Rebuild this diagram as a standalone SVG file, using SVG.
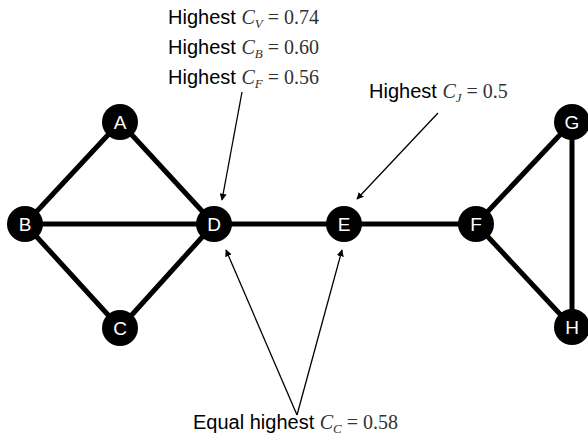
<svg xmlns="http://www.w3.org/2000/svg" width="588" height="445" viewBox="0 0 588 445">
<style>
.edge{stroke:#000;stroke-width:5;fill:none}
.arr{stroke:#000;stroke-width:1.3;fill:none;marker-end:url(#ah)}
.node circle{fill:#000}
.node text{fill:#fff;font-family:"Liberation Sans",Arial,sans-serif;font-size:19px;text-anchor:middle}
.lbl{font-family:"Liberation Sans",Arial,sans-serif;font-size:20px;fill:#000}
.m{font-family:"Liberation Serif","Times New Roman",serif;font-size:20px;fill:#333;font-style:normal}
.mi{font-family:"Liberation Serif","Times New Roman",serif;font-style:italic;font-size:20px;fill:#333}
.sub{font-family:"Liberation Serif","Times New Roman",serif;font-style:italic;font-size:13px;fill:#333}
</style>
<defs>
<marker id="ah" viewBox="0 0 10 10" refX="9" refY="5" markerWidth="7" markerHeight="7" markerUnits="userSpaceOnUse" orient="auto">
<path d="M0,0 L10,5 L0,10 z" fill="#000"/>
</marker>
</defs>
<rect width="588" height="445" fill="#fff"/>
<g id="connectors">
<line class="edge" x1="120" y1="122" x2="25" y2="224"/>
<line class="edge" x1="120" y1="122" x2="214" y2="224"/>
<line class="edge" x1="25" y1="224" x2="214" y2="224"/>
<line class="edge" x1="25" y1="224" x2="120" y2="328"/>
<line class="edge" x1="120" y1="328" x2="214" y2="224"/>
<line class="edge" x1="214" y1="224" x2="344" y2="224"/>
<line class="edge" x1="344" y1="224" x2="476" y2="224"/>
<line class="edge" x1="476" y1="224" x2="572" y2="122"/>
<line class="edge" x1="476" y1="224" x2="572" y2="327"/>
<line class="edge" x1="572" y1="122" x2="572" y2="327"/>
<line class="arr" x1="242" y1="92" x2="222" y2="200"/>
<line class="arr" x1="438" y1="113" x2="357" y2="199"/>
<line class="arr" x1="297" y1="415" x2="226" y2="250"/>
<line class="arr" x1="297" y1="415" x2="342" y2="250"/>
</g>
<g id="A" class="node"><circle cx="120" cy="122" r="18"/><text x="120" y="129">A</text></g>
<g id="B" class="node"><circle cx="25" cy="224" r="18"/><text x="25" y="231">B</text></g>
<g id="C" class="node"><circle cx="120" cy="328" r="18"/><text x="120" y="335">C</text></g>
<g id="D" class="node"><circle cx="214" cy="224" r="18"/><text x="214" y="231">D</text></g>
<g id="E" class="node"><circle cx="344" cy="224" r="18"/><text x="344" y="231">E</text></g>
<g id="F" class="node"><circle cx="476" cy="224" r="18"/><text x="476" y="231">F</text></g>
<g id="G" class="node"><circle cx="572" cy="122" r="18"/><text x="572" y="129">G</text></g>
<g id="H" class="node"><circle cx="572" cy="327" r="18"/><text x="572" y="334">H</text></g>
<g id="labels">
<text x="168" y="24"><tspan class="lbl">Highest </tspan><tspan class="mi">C</tspan><tspan class="sub" dy="4">V</tspan><tspan class="m" dy="-4" font-family="Liberation Serif, serif"> = 0.74</tspan></text>
<text x="168" y="54"><tspan class="lbl">Highest </tspan><tspan class="mi">C</tspan><tspan class="sub" dy="4">B</tspan><tspan class="m" dy="-4" font-family="Liberation Serif, serif"> = 0.60</tspan></text>
<text x="168" y="84"><tspan class="lbl">Highest </tspan><tspan class="mi">C</tspan><tspan class="sub" dy="4">F</tspan><tspan class="m" dy="-4" font-family="Liberation Serif, serif"> = 0.56</tspan></text>
<text x="369" y="98"><tspan class="lbl">Highest </tspan><tspan class="mi">C</tspan><tspan class="sub" dy="4">J</tspan><tspan class="m" dy="-4" font-family="Liberation Serif, serif"> = 0.5</tspan></text>
<text x="193" y="429"><tspan class="lbl">Equal highest </tspan><tspan class="mi">C</tspan><tspan class="sub" dy="4">C</tspan><tspan class="m" dy="-4" font-family="Liberation Serif, serif"> = 0.58</tspan></text>
</g>
</svg>
